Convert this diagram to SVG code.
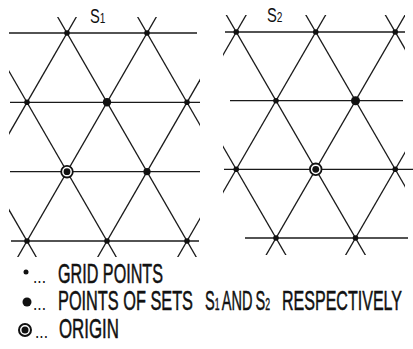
<svg xmlns="http://www.w3.org/2000/svg" width="413" height="349" viewBox="0 0 413 349">
<style>
.ln{stroke:#1a1a1a;stroke-width:1.3;fill:none}
.pt{fill:#111}
.ring{fill:#fff;stroke:#111;stroke-width:1.8}
.lbl{font-family:"Liberation Sans",Arial,sans-serif;font-size:21px;fill:#111}
.sm{font-size:14.5px}
.lg{font-family:"Liberation Sans",Arial,sans-serif;font-size:28.5px;fill:#111;stroke:#111;stroke-width:0.55}
.sub{font-size:17px;stroke-width:0.4}
.dots{font-family:"Liberation Sans",Arial,sans-serif;font-size:18px;fill:#111}
</style>
<defs>
<clipPath id="clipL"><rect x="9" y="17" width="191" height="240"/></clipPath>
<clipPath id="clipR"><rect x="223" y="15" width="182" height="240"/></clipPath>
</defs>
<rect width="413" height="349" fill="#fff"/>

<g id="panel-s1">
  <g id="s1-lines">
    <g clip-path="url(#clipL)">
      <line class="ln" x1="-75.5" y1="280" x2="86.1" y2="0"/>
      <line class="ln" x1="4.5" y1="280" x2="166.1" y2="0"/>
      <line class="ln" x1="84.5" y1="280" x2="246.1" y2="0"/>
      <line class="ln" x1="164.5" y1="280" x2="326.1" y2="0"/>
      <line class="ln" x1="49.5" y1="280" x2="-112.1" y2="0"/>
      <line class="ln" x1="129.5" y1="280" x2="-32.1" y2="0"/>
      <line class="ln" x1="209.5" y1="280" x2="47.9" y2="0"/>
      <line class="ln" x1="289.5" y1="280" x2="127.9" y2="0"/>
    </g>
    <line class="ln" x1="9" y1="33" x2="197" y2="33"/>
    <line class="ln" x1="10" y1="102.3" x2="200" y2="102.3"/>
    <line class="ln" x1="10" y1="171.7" x2="200" y2="171.7"/>
    <line class="ln" x1="11" y1="241" x2="199" y2="241"/>
  </g>
  <g id="s1-points">
    <circle class="pt" cx="67" cy="33" r="2.8"/>
    <circle class="pt" cx="147" cy="33" r="2.8"/>
    <circle class="pt" cx="27" cy="102.3" r="2.8"/>
    <circle class="pt" cx="107" cy="102.3" r="4.2"/>
    <circle class="pt" cx="187" cy="102.3" r="2.8"/>
    <circle class="pt" cx="147" cy="171.7" r="3.6"/>
    <circle class="pt" cx="27" cy="241" r="2.8"/>
    <circle class="pt" cx="107" cy="241" r="2.8"/>
    <circle class="pt" cx="187" cy="241" r="2.8"/>
    <g id="s1-origin">
      <circle class="ring" cx="67" cy="171.7" r="5.8"/>
      <circle class="pt" cx="67" cy="171.7" r="3.4"/>
    </g>
  </g>
  <text class="lbl" transform="translate(90,23) scale(0.7,1)">S<tspan class="sm">1</tspan></text>
</g>

<g id="panel-s2">
  <g id="s2-lines">
    <g clip-path="url(#clipR)">
      <line class="ln" x1="92.7" y1="280" x2="254.8" y2="0"/>
      <line class="ln" x1="172.2" y1="280" x2="334.3" y2="0"/>
      <line class="ln" x1="251.7" y1="280" x2="413.8" y2="0"/>
      <line class="ln" x1="331.2" y1="280" x2="493.3" y2="0"/>
      <line class="ln" x1="300.3" y1="280" x2="138.2" y2="0"/>
      <line class="ln" x1="379.8" y1="280" x2="217.7" y2="0"/>
      <line class="ln" x1="459.3" y1="280" x2="297.2" y2="0"/>
      <line class="ln" x1="538.8" y1="280" x2="376.7" y2="0"/>
    </g>
    <line class="ln" x1="225" y1="32" x2="405" y2="32"/>
    <line class="ln" x1="230" y1="100.7" x2="403" y2="100.7"/>
    <line class="ln" x1="224" y1="169.3" x2="413" y2="169.3"/>
    <line class="ln" x1="245" y1="238" x2="408" y2="238"/>
  </g>
  <g id="s2-points">
    <circle class="pt" cx="236.25" cy="32" r="2.8"/>
    <circle class="pt" cx="315.75" cy="32" r="2.8"/>
    <circle class="pt" cx="395.25" cy="32" r="2.8"/>
    <circle class="pt" cx="276" cy="100.7" r="2.8"/>
    <circle class="pt" cx="355.5" cy="100.7" r="4.5"/>
    <circle class="pt" cx="236.25" cy="169.3" r="2.8"/>
    <circle class="pt" cx="395.25" cy="169.3" r="2.8"/>
    <circle class="pt" cx="276" cy="238" r="2.8"/>
    <circle class="pt" cx="355.5" cy="238" r="2.8"/>
    <g id="s2-origin">
      <circle class="ring" cx="315.75" cy="169.3" r="5.8"/>
      <circle class="pt" cx="315.75" cy="169.3" r="3.4"/>
    </g>
  </g>
  <text class="lbl" transform="translate(267,22) scale(0.7,1)">S<tspan class="sm">2</tspan></text>
</g>

<g id="legend">
  <g id="legend-grid">
    <circle class="pt" cx="26" cy="272" r="2.5"/>
    <text class="dots" x="33" y="283" textLength="13" lengthAdjust="spacingAndGlyphs">...</text>
    <text class="lg" x="58" y="283" textLength="105" lengthAdjust="spacingAndGlyphs">GRID POINTS</text>
  </g>
  <g id="legend-sets">
    <circle class="pt" cx="27" cy="302" r="4.5"/>
    <text class="dots" x="33" y="310" textLength="13" lengthAdjust="spacingAndGlyphs">...</text>
    <text class="lg" x="58" y="310" textLength="135" lengthAdjust="spacingAndGlyphs">POINTS OF SETS</text>
    <text class="lg" x="205" y="310" textLength="65" lengthAdjust="spacingAndGlyphs" word-spacing="-2">S<tspan class="sub">1</tspan> AND S<tspan class="sub">2</tspan></text>
    <text class="lg" x="282" y="310" textLength="120" lengthAdjust="spacingAndGlyphs">RESPECTIVELY</text>
  </g>
  <g id="legend-origin">
    <circle class="ring" cx="25" cy="330" r="6" style="stroke-width:2"/>
    <circle class="pt" cx="25" cy="330" r="3.5"/>
    <text class="dots" x="35" y="338" textLength="13" lengthAdjust="spacingAndGlyphs">...</text>
    <text class="lg" x="59" y="338" textLength="60" lengthAdjust="spacingAndGlyphs">ORIGIN</text>
  </g>
</g>
</svg>
